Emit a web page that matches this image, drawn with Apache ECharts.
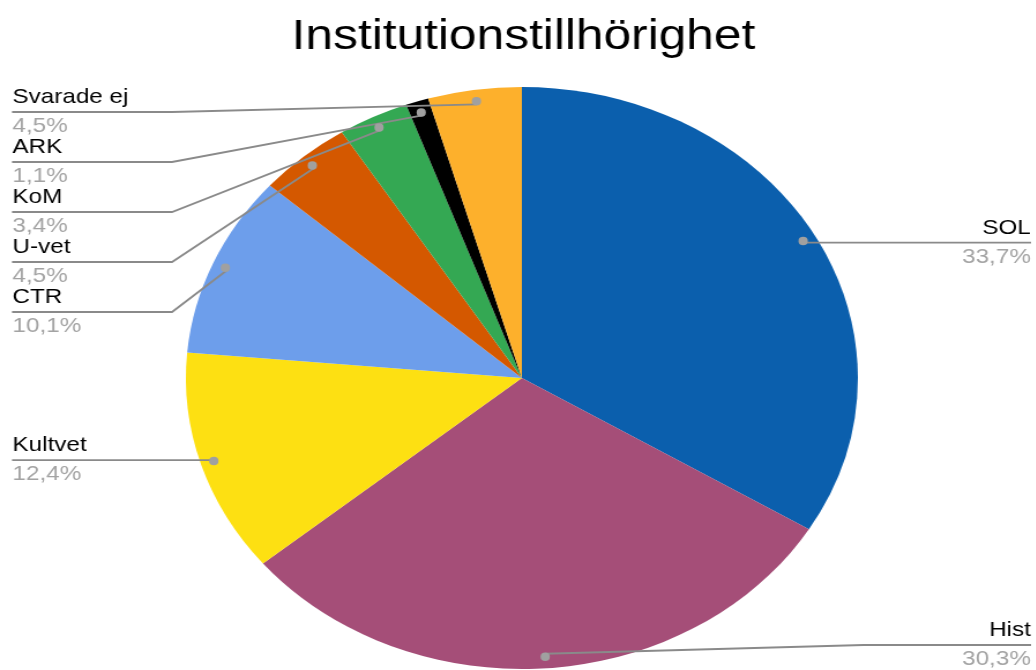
<!DOCTYPE html>
<html>
<head>
<meta charset="utf-8">
<script src="https://cdn.jsdelivr.net/npm/echarts@6/dist/echarts.min.js"></script>
<style>
    html, body { margin: 0; padding: 0; background: #fff; overflow: hidden; }
    /* the reference picture is stretched sideways, so the chart is too */
    #main { width: 897px; height: 670px; transform: scaleX(1.1546); transform-origin: 0 0; }
</style>
</head>
<body>
<div id="main"></div>
<script>
const categories = ['SOL', 'Hist', 'Kultvet', 'CTR', 'U-vet', 'KoM', 'ARK', 'Svarade ej']
const shares = [33.7, 30.3, 12.4, 10.1, 4.5, 3.4, 1.1, 4.5]
const colors = ['#0b5fad', '#a54e78', '#fde012', '#6d9eeb', '#d45800', '#34a853', '#000000', '#fdb02c']

const font = 'Liberation Sans, Arial, sans-serif'
const center = [452, 378]
const R = 291
const dotR = R * 0.95

// Google Sheets style label stacking: each label sits at its dot's height, pushed apart when they crowd
const labelPos = (() => {
    let total = shares.reduce((a, b) => a + b, 0)
    let acc = 0
    let items = shares.map((v, i) => {
        let a = (acc + v / 2) / total * Math.PI * 2
        acc += v
        return {
            i,
            x: center[0] + dotR * Math.sin(a),
            y: center[1] - dotR * Math.cos(a),
            left: Math.sin(a) < 0
        }
    })
    let gap = 50, top = 112, bottom = 645
    ;[true, false].forEach(side => {
        let list = items.filter(d => d.left === side).sort((a, b) => a.y - b.y)
        list.forEach((d, k) => {
            d.ly = Math.max(d.y, top, k ? list[k - 1].ly + gap : top)
        })
        for (let k = list.length - 1; k >= 0; k--) {
            let d = list[k]
            d.ly = Math.min(d.ly, bottom, k < list.length - 1 ? list[k + 1].ly - gap : bottom)
        }
    })
    let out = []
    items.forEach(d => out[d.i] = d)
    return out
})()

const fmt = v => v.toFixed(1).replace('.', ',') + '%'

const pieData = categories.map((name, i) => ({
    name: name,
    value: shares[i],
    itemStyle: { color: colors[i] }
}))

const ghost = categories.map((name, i) => ({
    name: name,
    value: shares[i]
}))

let myChart = echarts.init(document.getElementById('main'))

let option = {
    animation: false,
    title: {
        text: 'Institutionstillhörighet',
        left: 252.6,
        top: 16,
        padding: 0,
        textStyle: {
            fontFamily: font,
            fontSize: 43,
            lineHeight: 43,
            fontWeight: 'normal',
            color: '#000'
        }
    },
    series: [
        {
            type: 'pie',
            center: center,
            radius: R,
            silent: true,
            label: { show: false },
            labelLine: { show: false },
            itemStyle: { borderWidth: 0 },
            data: pieData,
            z: 2
        },
        {
            // carries the text labels and leader lines
            type: 'pie',
            center: center,
            radius: dotR,
            silent: true,
            itemStyle: { color: 'rgba(0,0,0,0)' },
            label: {
                show: true,
                position: 'outside',
                fontFamily: font,
                formatter: p => `{n|${p.name}}\n{p|${fmt(p.value)}}`,
                rich: {
                    n: { fontFamily: font, fontSize: 21, lineHeight: 29, color: '#000' },
                    p: { fontFamily: font, fontSize: 21, lineHeight: 29, color: '#a3a3a3' }
                }
            },
            labelLine: {
                show: true,
                length: 5,
                length2: 5,
                lineStyle: { color: '#8a8a8a', width: 1.8 }
            },
            labelLayout: params => {
                let d = labelPos[params.dataIndex]
                let p0 = params.labelLinePoints ? params.labelLinePoints[0] : [d.x, d.y]
                if (d.left) {
                    return {
                        x: 10.8, y: d.ly, align: 'left', verticalAlign: 'middle',
                        labelLinePoints: [p0, [149, d.ly], [10.4, d.ly]]
                    }
                }
                return {
                    x: 892.8, y: d.ly, align: 'right', verticalAlign: 'middle',
                    labelLinePoints: [p0, [748, d.ly], [893, d.ly]]
                }
            },
            data: ghost,
            z: 3
        },
        {
            // grey dots where the leader lines start
            type: 'pie',
            center: center,
            radius: [R * 0.9, R],
            silent: true,
            itemStyle: { color: 'rgba(0,0,0,0)' },
            label: {
                show: true,
                position: 'inside',
                formatter: '{d|}',
                rich: {
                    d: { width: 8, height: 8.5, lineHeight: 8.5, borderRadius: 4.2, backgroundColor: '#a0a0a0' }
                }
            },
            labelLine: { show: false },
            data: ghost,
            z: 4
        }
    ]
}

option && myChart.setOption(option)
</script>
</body>
</html>
